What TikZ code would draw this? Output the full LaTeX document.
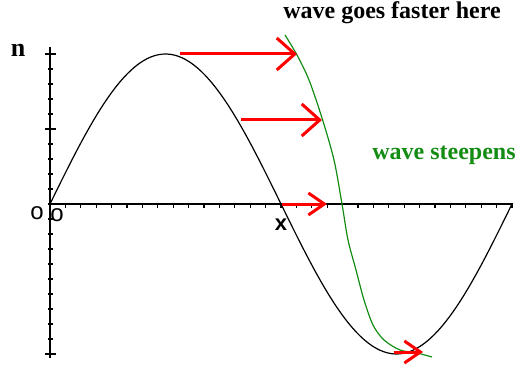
\documentclass[tikz,border=0pt]{standalone}
\usepackage{fontspec}
\setmainfont{Liberation Serif}
\setsansfont{Liberation Sans}
\usetikzlibrary{arrows.meta}

\definecolor{steepgreen}{RGB}{20,140,20}

\begin{document}
\begin{tikzpicture}[
  x=0.5pt, y=-0.5pt,
  font=\fontsize{12}{14}\selectfont\bfseries,
  axis/.style={black, line width=0.9pt},
  tick/.style={black, line width=0.6pt},
  wave/.style={black, line width=0.6pt},
  steep/.style={steepgreen, line width=0.6pt},
  push/.style={red, line width=1.5pt,
    -{Straight Barb[length=9pt, width=16pt]}},
  smallpush/.style={red, line width=1.5pt,
    -{Straight Barb[length=8pt, width=11pt]}},
  axlabel/.style={font=\fontsize{11}{13}\selectfont\sffamily\bfseries},
  origlabel/.style={font=\fontsize{12}{14}\selectfont\sffamily},
]
\useasboundingbox (0,0) rectangle (519,369);

% Axes
\draw[axis] (50,47) -- (50,358);
\draw[axis] (50,204) -- (513,204);

% Ticks
\foreach \t in {0,...,20}
  \draw[tick] (48,{54+15*\t}) -- (53,{54+15*\t});
\foreach \t in {54,129,354}
  \draw[tick] (45,\t) -- (56,\t);
\foreach \t in {1,...,30}
  \draw[tick] ({50+15.4*\t},204) -- ({50+15.4*\t},208);

% Original wave
\draw[wave] plot[domain=0:462, samples=120] ({50+\x},{204-150*sin(0.779221*\x)});

% Steepened wave
\draw[steep] plot[smooth] coordinates {(285,35) (297,55) (309,80) (322,118)
  (334,160) (342,204) (348,240) (356,270) (364,300) (373,325) (384,340)
  (400,350) (417,353) (432,357)};

% Points on the wave and where they move to
\coordinate (crest)      at (180,54);
\coordinate (crestnew)   at (297,54);
\coordinate (upper)      at (241,120);
\coordinate (uppernew)   at (322,120);
\coordinate (node)       at (282,204);
\coordinate (nodenew)    at (327,204);
\coordinate (trough)     at (394,352);
\coordinate (troughnew)  at (423,352);

% Shifts
\draw[push] (crest) -- (crestnew);
\draw[push] (upper) -- (uppernew);
\draw[smallpush] (node) -- (nodenew);
\draw[smallpush] (trough) -- (troughnew);

% Labels
\node (fast) at (392,13) {wave goes faster here};
\node[text=steepgreen] (steepens) at (444,155) {wave steepens};
\node[font=\fontsize{13}{15}\selectfont\bfseries] (n) at (18,50) {n};
\node[axlabel] (xlab) at (281,225) {x};
\node[origlabel] (origin) at (37,213) {o};
\node[origlabel] (origintwo) at (57,215) {o};

\end{tikzpicture}
\end{document}
